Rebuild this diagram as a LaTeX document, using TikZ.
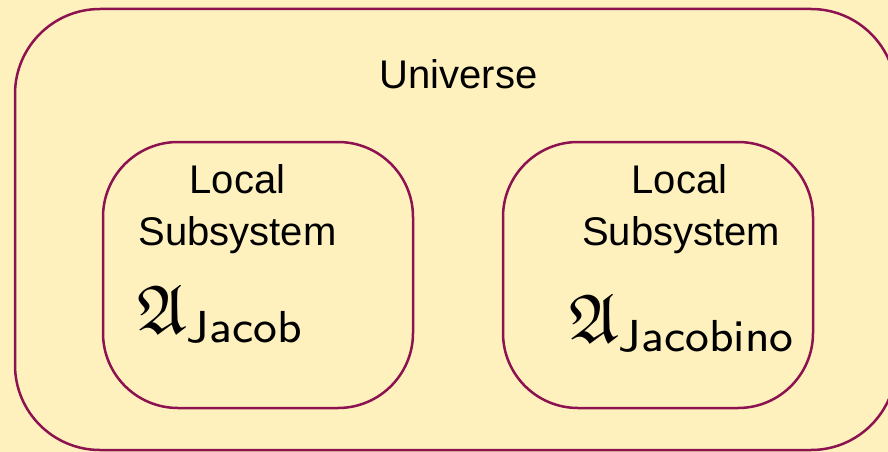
\documentclass[tikz,border=0pt]{standalone}
\usepackage{amssymb}
\usepackage{graphicx}
\usepackage{fontspec}
\newfontfamily\labelfont{Liberation Sans}
\definecolor{paper}{RGB}{254,241,190}
\definecolor{rim}{RGB}{140,18,80}
\newcommand{\bigfrak}{\scalebox{1.08}{$\mathfrak{A}$}}
\begin{document}
\begin{tikzpicture}[x=1pt,y=-1pt,
  region/.style={draw=rim, line width=2.5pt, fill=paper, rectangle, inner sep=0pt},
  word/.style={font=\labelfont\fontsize{40}{44}\selectfont, inner sep=0pt, anchor=base, text=black},
  algebra/.style={inner sep=0pt, anchor=base west, text=black}]
  % page
  \fill[paper] (0,0) rectangle (888,452);
  \useasboundingbox (0,0) rectangle (888,452);
  \clip (0,0) rectangle (888,452);

  % the universe and its two local subsystems
  \node[region, minimum width=881pt, minimum height=441pt, rounded corners=85pt]
    (universe) at (455.5,229.5) {};
  \node[region, minimum width=310pt, minimum height=266pt, rounded corners=75pt]
    (jacob) at (258,275) {};
  \node[region, minimum width=310pt, minimum height=266pt, rounded corners=75pt]
    (jacobino) at (658,275) {};

  % labels
  \node[word] (unilabel) at (458.5,88) {Universe};
  \node[word] (jlocal) at (237.5,193) {Local};
  \node[word] (jsub) at (237.5,245) {Subsystem};
  \node[word] (jjlocal) at (679.5,193) {Local};
  \node[word] (jjsub) at (681,245) {Subsystem};

  % algebras
  \node[algebra] (jalg) at (137,333) {\scalebox{6.4}{$\bigfrak_{\mathsf{Jacob}}$}};
  \node[algebra] (jjalg) at (569,342) {\scalebox{6.4}{$\bigfrak_{\mathsf{Jacobino}}$}};
\end{tikzpicture}
\end{document}
